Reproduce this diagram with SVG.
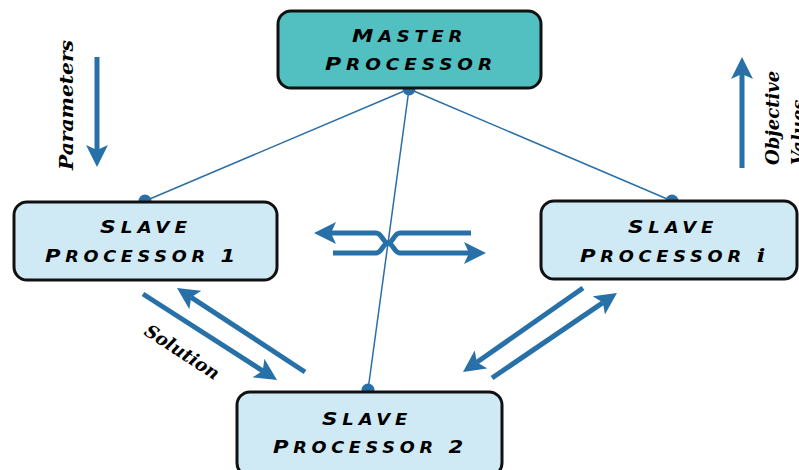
<svg xmlns="http://www.w3.org/2000/svg" width="799" height="470" viewBox="0 0 799 470">
<style>
.box{stroke:#111;stroke-width:3}
.master{fill:#52bfc0}
.slave{fill:#cfe9f5}
.lbl{font-family:"DejaVu Sans","Liberation Sans",sans-serif;font-weight:bold;font-style:italic;font-size:15px;letter-spacing:4px;fill:#000}
.cap{font-size:18px}
.note{font-family:"DejaVu Serif",serif;font-weight:bold;font-style:italic;font-size:18px;fill:#000}
.thin{stroke:#2a6fa6;stroke-width:1.5;fill:none}
.arr{stroke:#2871a8;stroke-width:5;fill:none;marker-end:url(#ah)}
.dot{fill:#2a6fa6}
</style>
<defs>
<marker id="ah" markerUnits="userSpaceOnUse" markerWidth="22" markerHeight="22" viewBox="0 0 22 22" refX="5" refY="11" orient="auto">
<path d="M0,0 L22,11 L0,22 L5,11 z" fill="#2871a8"/>
</marker>
</defs>
<g id="connectors">
<line class="thin" x1="409" y1="89" x2="145" y2="201"/>
<line class="thin" x1="409" y1="89" x2="672" y2="201"/>
<line class="thin" x1="409" y1="89" x2="368" y2="390"/>
<line class="arr" x1="97" y1="57" x2="97" y2="150"/>
<line class="arr" x1="742" y1="168" x2="742" y2="74"/>
<line class="arr" x1="143" y1="294" x2="262.7" y2="370.8"/>
<line class="arr" x1="305" y1="372" x2="191.2" y2="297.3"/>
<line class="arr" x1="583" y1="288" x2="476.9" y2="362.3"/>
<line class="arr" x1="492" y1="378" x2="602.9" y2="302.6"/>
<path class="arr" d="M471,233 H400 C394,233 393,243 388,243 C383,243 382,233 376,233 H331"/>
<path class="arr" d="M333,253 H376 C382,253 383,243 388,243 C393,243 394,253 400,253 H469"/>
<circle class="dot" cx="409" cy="89" r="6.5"/>
<circle class="dot" cx="145" cy="201" r="6.5"/>
<circle class="dot" cx="672" cy="201" r="6.5"/>
<circle class="dot" cx="368" cy="390" r="6.5"/>
</g>
<g id="master">
<rect class="box master" x="278" y="11" width="263" height="77" rx="13"/>
<text class="lbl" x="352" y="42" textLength="115" lengthAdjust="spacingAndGlyphs"><tspan class="cap">M</tspan>ASTER</text>
<text class="lbl" x="325" y="70" textLength="172" lengthAdjust="spacingAndGlyphs"><tspan class="cap">P</tspan>ROCESSOR</text>
</g>
<g id="slave1">
<rect class="box slave" x="14" y="202" width="263" height="78" rx="13"/>
<text class="lbl" x="100" y="233" textLength="92" lengthAdjust="spacingAndGlyphs"><tspan class="cap">S</tspan>LAVE</text>
<text class="lbl" x="45" y="262" textLength="195" lengthAdjust="spacingAndGlyphs"><tspan class="cap">P</tspan>ROCESSOR <tspan class="cap">1</tspan></text>
</g>
<g id="slavei">
<rect class="box slave" x="541" y="201" width="256" height="78" rx="13"/>
<text class="lbl" x="628" y="233" textLength="90" lengthAdjust="spacingAndGlyphs"><tspan class="cap">S</tspan>LAVE</text>
<text class="lbl" x="580" y="262" textLength="190" lengthAdjust="spacingAndGlyphs"><tspan class="cap">P</tspan>ROCESSOR <tspan font-family="DejaVu Serif, serif" font-size="19px">i</tspan></text>
</g>
<g id="slave2">
<rect class="box slave" x="237" y="392" width="265" height="84" rx="13"/>
<text class="lbl" x="322" y="425" textLength="90" lengthAdjust="spacingAndGlyphs"><tspan class="cap">S</tspan>LAVE</text>
<text class="lbl" x="273" y="453" textLength="195" lengthAdjust="spacingAndGlyphs"><tspan class="cap">P</tspan>ROCESSOR <tspan class="cap">2</tspan></text>
</g>
<g id="labels">
<text class="note" transform="translate(73,170) rotate(-90)" textLength="130" lengthAdjust="spacingAndGlyphs">Parameters</text>
<text class="note" transform="translate(779,165) rotate(-90)">Objective<tspan x="0" dy="26">Values</tspan></text>
<text class="note" transform="translate(143,334) rotate(33)" font-size="19">Solution</text>
</g>
</svg>
